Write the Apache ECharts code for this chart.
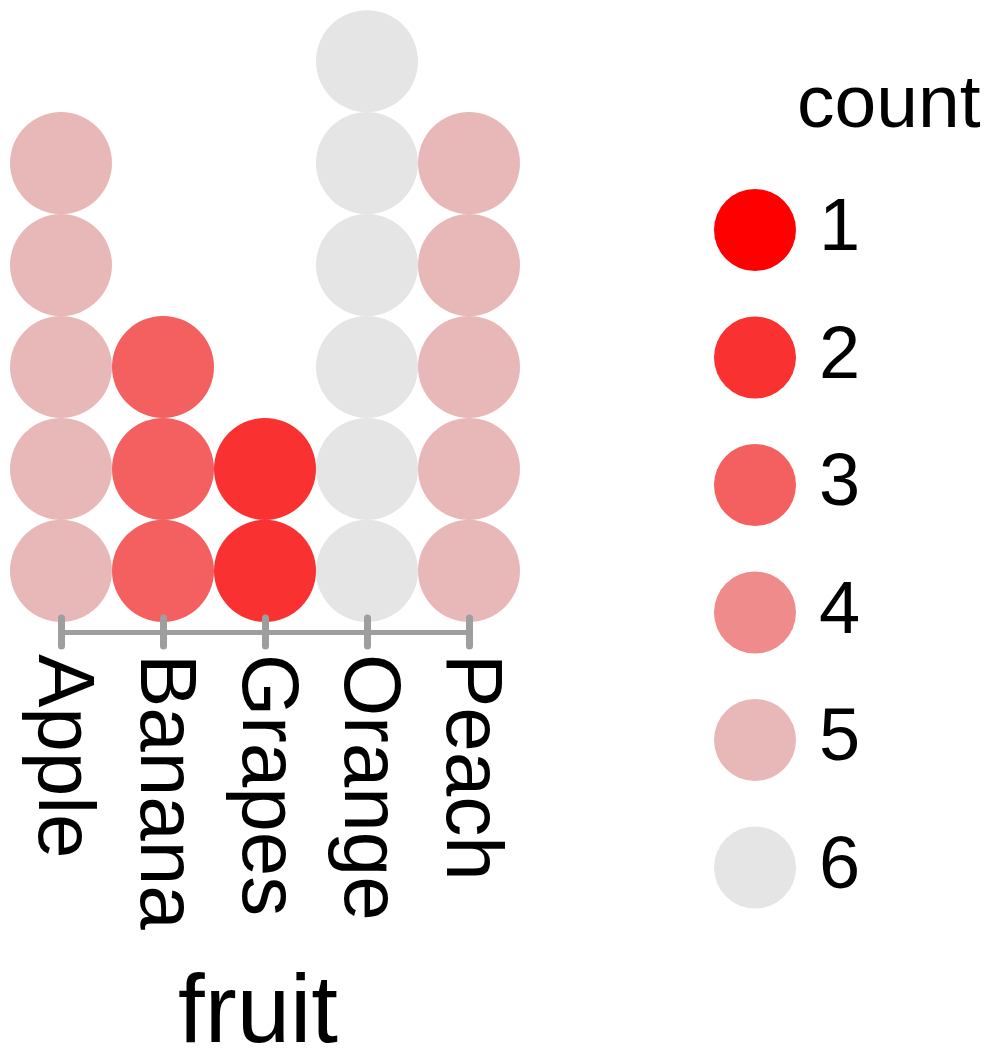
<!DOCTYPE html>
<html>
<head>
<meta charset="utf-8">
<script src="https://cdn.jsdelivr.net/npm/echarts@6/dist/echarts.min.js"></script>
<style>html,body{margin:0;padding:0;background:#fff;}#c{width:1000px;height:1061px;}</style>
</head>
<body>
<div id="c"></div>
<script>
const fruits = ['Apple', 'Banana', 'Grapes', 'Orange', 'Peach'];
const counts = [5, 3, 2, 6, 5];
const legendValues = [1, 2, 3, 4, 5, 6];
const legendColors = ['#FF0000', '#F93131', '#F45F5F', '#EF8B8B', '#E8B8B8', '#E5E5E5'];

const dots = [];
fruits.forEach(function (f, i) {
  for (let k = 1; k <= counts[i]; k++) dots.push([f, k, counts[i]]);
});

const FONT = '"Liberation Sans", Arial, Helvetica, sans-serif';
const axisGray = '#9E9E9E';

const chart = echarts.init(document.getElementById('c'), null, {renderer: 'canvas'});
chart.setOption({
  backgroundColor: '#fff',
  animation: false,
  grid: {left: 61, right: 531, top: 0, height: 632, containLabel: false, outerBoundsMode: 'none'},
  xAxis: [{
    type: 'category',
    data: fruits,
    boundaryGap: false,
    position: 'bottom',
    z: 10,
    axisLine: {show: true, lineStyle: {color: axisGray, width: 5, cap: 'round'}},
    axisTick: {show: true, interval: 0, length: 14, lineStyle: {color: axisGray, width: 7, cap: 'round'}},
    axisLabel: {interval: 0, rotate: -90, margin: 22, fontSize: 80, color: '#000', fontFamily: FONT, hideOverlap: false},
    splitLine: {show: false},
    name: 'fruit',
    nameLocation: 'middle',
    nameGap: 336,
    nameMoveOverlap: false,
    nameTextStyle: {fontSize: 96, color: '#000', fontFamily: FONT, padding: [0, 14, 0, 0]}
  }, {
    type: 'category',
    data: fruits,
    boundaryGap: false,
    position: 'top',
    offset: -632,
    z: 10,
    axisLine: {show: false},
    axisTick: {show: true, interval: 0, length: 14, lineStyle: {color: axisGray, width: 7, cap: 'round'}},
    axisLabel: {show: false},
    splitLine: {show: false}
  }],
  yAxis: {type: 'value', min: 0.4, max: 6.6, show: false, splitLine: {show: false}},
  visualMap: {
    type: 'piecewise',
    dimension: 2,
    seriesIndex: 0,
    orient: 'vertical',
    inverse: true,
    left: 699,
    top: 174,
    itemWidth: 82,
    itemHeight: 82,
    itemGap: 45.5,
    itemSymbol: 'circle',
    textGap: 23,
    align: 'left',
    selectedMode: false,
    textStyle: {fontSize: 74, color: '#000', fontFamily: FONT},
    pieces: legendValues.map(function (v, i) {
      return {value: v, label: String(v), color: legendColors[i]};
    })
  },
  graphic: [{
    type: 'text',
    x: 797,
    y: 106,
    style: {text: 'count', font: '75px ' + FONT, fill: '#000', textVerticalAlign: 'middle', verticalAlign: 'middle'}
  }],
  series: [{
    type: 'scatter',
    xAxisIndex: 0,
    yAxisIndex: 0,
    symbol: 'circle',
    symbolSize: 102,
    data: dots,
    itemStyle: {opacity: 1},
    emphasis: {disabled: true}
  }]
});
</script>
</body>
</html>
